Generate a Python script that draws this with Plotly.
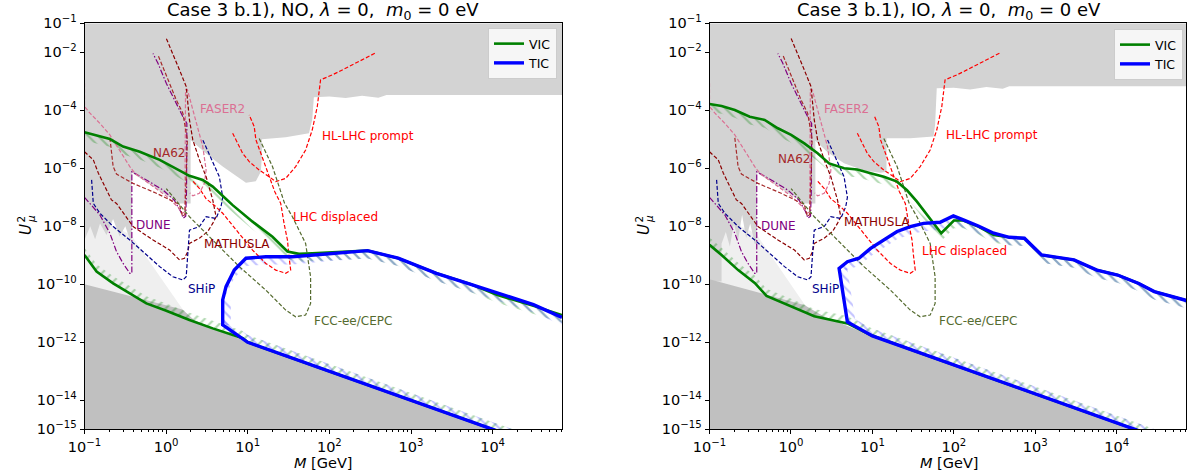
import plotly.graph_objects as go

# ---------------- data: log10(M / GeV) and log10(U_mu^2) ----------------
# existing constraints (light grey band at the top)
NO_EXCL_LOGM = [-1, -1, -0.93, -0.87, -0.81, -0.73, -0.65, -0.57, -0.5, -0.445, -0.42, -0.42, 0.164, 0.30, 0.30,
                0.49, 0.693, 0.978, 1.099, 1.16, 1.173, 1.173, 1.465, 1.75, 1.79, 1.81, 2.0, 2.2, 2.4, 2.6, 2.7, 4.9, 4.9]
NO_EXCL_LOGU = [-1, -8.47, -8.0, -8.45, -7.9, -8.3, -7.75, -8.35, -8.0, -8.45, -8.45, -6.15, -7.21, -7.21, -5.02,
                -5.49, -5.94, -6.50, -6.45, -6.12, -5.60, -5.0, -4.93, -4.79, -4.33, -3.55, -3.52, -3.58, -3.5, -3.57, -3.47, -3.47, -1]
IO_EXCL_LOGM = [-1, -1, -0.852, -0.852, -0.8, -0.75, -0.7, -0.65, -0.6, -0.55, -0.5, -0.445, -0.42, -0.42, 0.164, 0.30, 0.30,
                0.45, 0.652, 0.896, 1.10, 1.173, 1.173, 1.465, 1.75, 1.77, 1.79, 2.0, 2.2, 2.4, 2.6, 2.68, 4.9, 4.9]
IO_EXCL_LOGU = [-1, -9.9, -9.9, -8.6, -8.2, -8.7, -7.9, -8.5, -7.6, -8.4, -7.9, -8.6, -8.6, -6.15, -7.21, -7.21, -5.05,
                -5.45, -5.83, -6.08, -6.15, -6.12, -4.96, -4.96, -4.9, -4.5, -3.24, -3.22, -3.28, -3.2, -3.26, -3.17, -3.17, -1]
# BBN-like very light region
NO_BBN_LOGM = [-1, -0.43, 0.2, 0.2, -1]
NO_BBN_LOGU = [-7.5, -8.3, -10.85, -11.5, -11.5]
IO_BBN_LOGM = [-1, -0.43, 0.18, 0.18, -1]
IO_BBN_LOGU = [-7.5, -8.25, -10.75, -11.5, -11.5]
# seesaw (darker grey, bottom)
NO_SEESAW_LOGM = [-1, 0.2, 0.35, 1.0, 4.0, 5.0, 5.0, -1]
NO_SEESAW_LOGU = [-10, -10.87, -11.25, -12.0, -15.0, -16, -16.5, -16.5]
IO_SEESAW_LOGM = [-1, 0.164, 0.4, 1.0, 4.2, 5.0, 5.0, -1]
IO_SEESAW_LOGU = [-9.83, -10.71, -11.1, -11.78, -14.98, -15.78, -16.5, -16.5]

# VIC (green) boundaries
NO_VIC_UP_LOGM = [-1.0, -0.811, -0.689, -0.527, -0.323, -0.079, 0.124, 0.286, 0.449, 0.571, 0.734, 0.815, 1.059, 1.303,
                  1.486, 1.628, 1.79, 2.0, 2.468, 2.843, 3.311, 3.733, 4.06, 4.53, 4.85]
NO_VIC_UP_LOGU = [-4.76, -4.91, -4.99, -5.25, -5.43, -5.71, -6.0, -6.26, -6.40, -6.63, -7.06, -7.27, -7.84, -8.36,
                  -8.87, -8.95, -8.93, -8.91, -8.84, -9.10, -9.62, -10.0, -10.37, -10.77, -11.06]
NO_VIC_LO_LOGM = [-1.0, -0.852, -0.649, -0.445, -0.242, 0.002, 0.286, 0.571, 0.937, 1.0, 2.0, 3.0, 4.0, 4.5]
NO_VIC_LO_LOGU = [-8.99, -9.56, -9.97, -10.31, -10.66, -10.91, -11.23, -11.52, -11.86, -12.0, -13.0, -14.0, -15.0, -15.5]
IO_VIC_UP_LOGM = [-1.0, -0.852, -0.689, -0.506, -0.323, -0.161, 0.002, 0.164, 0.327, 0.469, 0.652, 0.815, 0.978, 1.14,
                  1.303, 1.425, 1.547, 1.75, 1.845, 2.0, 2.116, 2.30, 2.49, 2.68, 2.866, 3.077, 3.475, 3.756, 4.01, 4.27, 4.46, 4.85]
IO_VIC_UP_LOGU = [-3.78, -3.85, -3.99, -4.22, -4.33, -4.62, -4.85, -5.14, -5.48, -5.83, -6.0, -6.04, -6.17, -6.29,
                  -6.46, -6.75, -7.15, -7.90, -8.24, -7.8, -7.8, -8.01, -8.30, -8.38, -8.41, -8.99, -9.16, -9.51, -9.68, -9.97, -10.25, -10.55]
IO_VIC_LO_LOGM = [-1.0, -0.852, -0.648, -0.445, -0.30, 0.002, 0.286, 0.693, 0.978, 1.5, 2.0, 3.0, 4.0, 4.5]
IO_VIC_LO_LOGU = [-8.64, -8.99, -9.51, -9.95, -10.4, -10.75, -11.1, -11.35, -11.75, -12.28, -12.78, -13.78, -14.78, -15.28]

# TIC (blue) boundaries
NO_TIC_UP_LOGM = [0.693, 0.693, 0.734, 0.835, 0.978, 1.222, 1.547, 1.79, 2.0, 2.468, 2.843, 3.311, 3.733, 4.06, 4.5, 4.85]
NO_TIC_UP_LOGU = [-11.40, -10.54, -10.08, -9.51, -9.10, -9.05, -9.05, -8.99, -8.93, -8.84, -9.10, -9.62, -10.0, -10.31, -10.7, -11.14]
NO_TIC_LO_LOGM = [0.693, 1.0, 2.0, 3.0, 4.0, 4.5]
NO_TIC_LO_LOGU = [-11.40, -12.0, -13.0, -14.0, -15.0, -15.5]
IO_TIC_UP_LOGM = [0.693, 0.591, 0.693, 0.835, 0.978, 1.14, 1.303, 1.465, 1.628, 1.831, 1.994, 2.116, 2.30, 2.49, 2.68,
                  2.866, 3.077, 3.475, 3.756, 4.01, 4.27, 4.46, 4.857]
IO_TIC_UP_LOGU = [-11.3, -9.45, -9.22, -9.10, -8.76, -8.47, -8.18, -8.01, -7.90, -7.86, -7.64, -7.78, -7.99, -8.24, -8.38,
                  -8.41, -8.99, -9.16, -9.51, -9.68, -9.97, -10.25, -10.56]
IO_TIC_LO_LOGM = [0.693, 1.0, 2.0, 3.0, 4.0, 4.5]
IO_TIC_LO_LOGU = [-11.3, -11.78, -12.78, -13.78, -14.78, -15.28]

# future sensitivities (same in both panels)
DUNE_LOGM = [-1.0, -0.933, -0.87, -0.811, -0.689, -0.608, -0.527, -0.445, -0.42, -0.42, -0.242, -0.039, 0.10, 0.18,
             0.21, 0.24, 0.25, 0.254, 0.205, 0.124, 0.002, -0.10, -0.161]
DUNE_LOGU = [-7.0, -7.21, -7.4, -7.61, -8.24, -8.87, -9.28, -9.62, -9.62, -6.12, -6.40, -6.75, -7.1, -7.5,
             -7.72, -7.65, -6.75, -4.45, -4.22, -3.76, -3.07, -2.38, -2.04]
FASER2_LOGM = [-1.0, -1.0, -0.933, -0.811, -0.689, -0.6, -0.527, -0.445, -0.384, -0.2, 0.0, 0.15, 0.2, 0.23, 0.238,
               0.26, 0.449, 0.49, 0.469, 0.408, 0.327, 0.29]
FASER2_LOGU = [-3.07, -3.87, -4.10, -4.45, -4.85, -5.25, -5.60, -5.94, -6.17, -6.55, -6.95, -7.35, -7.55, -7.5, -3.30,
               -3.28, -5.25, -6.06, -6.52, -6.86, -6.95, -6.85]
NA62_LOGM = [-0.689, -0.67, -0.649, -0.608, -0.405, -0.12, 0.164, 0.2, 0.23, 0.26, 0.205, 0.124, 0.022, -0.10]
NA62_LOGU = [-4.95, -5.5, -5.94, -6.20, -6.52, -6.86, -7.25, -7.65, -7.6, -5.0, -4.10, -3.64, -2.95, -2.09]
MATHUSLA_LOGM = [-1.0, -0.892, -0.83, -0.75, -0.67, -0.608, -0.405, -0.16, 0.043, 0.164, 0.225, 0.266, 0.286, 0.408,
                 0.51, 0.571, 0.612, 0.571, 0.49, 0.408, 0.327, 0.286, 0.246, 0.164, 0.002]
MATHUSLA_LOGU = [-5.43, -5.71, -6.17, -6.63, -7.09, -7.21, -8.01, -8.47, -8.82, -9.16, -9.10, -8.87, -8.59, -8.41,
                 -8.18, -7.90, -7.67, -7.09, -6.29, -5.71, -5.02, -4.33, -3.18, -2.61, -1.52]
SHIP_LOGM = [-0.913, -0.892, -0.811, -0.648, -0.445, -0.242, -0.079, 0.083, 0.205, 0.246, 0.266, 0.286, 0.408, 0.449,
             0.49, 0.612, 0.673, 0.693, 0.652, 0.449]
SHIP_LOGU = [-6.40, -7.21, -7.55, -8.01, -8.47, -8.99, -9.39, -9.74, -9.85, -9.74, -9.05, -8.13, -8.01, -7.84,
             -7.67, -7.73, -7.32, -7.0, -6.29, -5.02]
HLLHC_LOGM = [0.815, 0.876, 0.937, 1.018, 1.14, 1.262, 1.343, 1.465, 1.587, 1.709, 1.79, 1.852, 1.892, 2.035, 2.116, 2.56]
HLLHC_LOGU = [-4.79, -5.14, -5.48, -5.77, -6.06, -6.29, -6.46, -6.35, -5.94, -5.37, -4.68, -3.87, -2.95, -2.78, -2.67, -2.03]
LHCDISP_LOGM = [0.33, 0.41, 0.49, 0.6, 0.693, 0.856, 1.059, 1.221, 1.343, 1.465, 1.526, 1.506, 1.486, 1.445, 1.404,
                1.33, 1.303, 1.283, 1.221, 1.16, 1.10, 1.079, 1.018]
LHCDISP_LOGU = [-6.45, -6.7, -7.05, -7.3, -7.55, -8.13, -8.82, -9.28, -9.51, -9.62, -9.51, -9.05, -8.47, -7.9, -7.21,
                -6.8, -6.6, -6.40, -5.94, -5.48, -5.02, -4.56, -4.16]
FCC_LOGM = [1.14, 1.221, 1.303, 1.384, 1.45, 1.547, 1.709, 1.77, 1.77, 1.709, 1.587, 1.465, 1.221, 0.896, 0.571, 0.286, 0.002]
FCC_LOGU = [-4.97, -5.48, -5.94, -6.63, -7.2, -7.67, -8.59, -9.74, -10.66, -11.06, -11.12, -10.89, -10.2, -9.39, -8.47, -7.67, -6.7]

# label positions (log10 M, log10 U^2) for [NO, IO]
LABELS = {
    "FASER2": [(0.396, -3.95), (0.382, -3.95)],
    "NA62": [(-0.18, -5.46), (-0.18, -5.69)],
    "HL-LHC prompt": [(1.88, -4.89), (1.882, -4.85)],
    "LHC displaced": [(1.53, -7.69), (1.59, -8.86)],
    "DUNE": [(-0.391, -7.97), (-0.391, -7.99)],
    "MATHUSLA": [(0.443, -8.62), (0.631, -7.85)],
    "SHiP": [(0.242, -10.15), (0.232, -10.17)],
    "FCC-ee/CEPC": [(1.788, -11.25), (1.788, -11.25)],
}
LABEL_COLORS = {"FASER2": "#db7093", "NA62": "#a52a2a", "HL-LHC prompt": "red", "LHC displaced": "red",
                "DUNE": "purple", "MATHUSLA": "#8b0000", "SHiP": "#00008b", "FCC-ee/CEPC": "#556b2f"}
TITLES = ["Case 3 b.1), NO, <i>λ</i> = 0,  <i>m</i><sub>0</sub> = 0 eV",
          "Case 3 b.1), IO, <i>λ</i> = 0,  <i>m</i><sub>0</sub> = 0 eV"]

X_TICKS = [0.1, 1, 10, 100, 1e3, 1e4]
X_TICKTEXT = ["10<sup>−1</sup>", "10<sup>0</sup>", "10<sup>1</sup>", "10<sup>2</sup>", "10<sup>3</sup>", "10<sup>4</sup>"]
Y_TICKS = [1e-1, 1e-2, 1e-4, 1e-6, 1e-8, 1e-10, 1e-12, 1e-14, 1e-15]
Y_TICKTEXT = ["10<sup>−1</sup>", "10<sup>−2</sup>", "10<sup>−4</sup>", "10<sup>−6</sup>", "10<sup>−8</sup>",
              "10<sup>−10</sup>", "10<sup>−12</sup>", "10<sup>−14</sup>", "10<sup>−15</sup>"]

# ---------------- figure ----------------
W, H = 1187, 476
GREEN = "#008000"
BLUE = "#0000ff"
G_HATCH = "rgba(0,128,0,0.62)"
B_HATCH = "rgba(30,30,255,0.55)"


def P(v):
    return [10.0 ** t for t in v]


fig = go.Figure()


def add(tr, k):
    tr.update(xaxis="x" if k == 0 else "x2", yaxis="y" if k == 0 else "y2")
    fig.add_trace(tr)


def poly(lm, lu, color, k):
    add(go.Scatter(x=P(lm), y=P(lu), mode="lines", fill="toself", fillcolor=color,
                   line=dict(width=0), hoverinfo="skip", showlegend=False), k)


def hatch(lm, lu, k, shape, color, dy=0.0, dx=0.0):
    xs = list(lm) + [t + dx for t in reversed(lm)]
    ys = list(lu) + [t + dy for t in reversed(lu)]
    add(go.Scatter(x=P(xs), y=P(ys), mode="lines", fill="toself", fillcolor="rgba(0,0,0,0)",
                   line=dict(width=0),
                   fillpattern=dict(shape=shape, fgcolor=color, bgcolor="rgba(0,0,0,0)", size=7, solidity=0.3),
                   hoverinfo="skip", showlegend=False), k)


def dline(lm, lu, color, dash, k):
    add(go.Scatter(x=P(lm), y=P(lu), mode="lines", line=dict(color=color, width=1.2, dash=dash),
                   hoverinfo="skip", showlegend=False), k)


panels = [
    dict(excl=(NO_EXCL_LOGM, NO_EXCL_LOGU), bbn=(NO_BBN_LOGM, NO_BBN_LOGU), ss=(NO_SEESAW_LOGM, NO_SEESAW_LOGU),
         vup=(NO_VIC_UP_LOGM, NO_VIC_UP_LOGU), vlo=(NO_VIC_LO_LOGM, NO_VIC_LO_LOGU),
         tup=(NO_TIC_UP_LOGM, NO_TIC_UP_LOGU), tlo=(NO_TIC_LO_LOGM, NO_TIC_LO_LOGU)),
    dict(excl=(IO_EXCL_LOGM, IO_EXCL_LOGU), bbn=(IO_BBN_LOGM, IO_BBN_LOGU), ss=(IO_SEESAW_LOGM, IO_SEESAW_LOGU),
         vup=(IO_VIC_UP_LOGM, IO_VIC_UP_LOGU), vlo=(IO_VIC_LO_LOGM, IO_VIC_LO_LOGU),
         tup=(IO_TIC_UP_LOGM, IO_TIC_UP_LOGU), tlo=(IO_TIC_LO_LOGM, IO_TIC_LO_LOGU)),
]

for k, p in enumerate(panels):
    poly(*p["bbn"], "#efefef", k)
    poly(*p["excl"], "#d3d3d3", k)
    poly(*p["ss"], "#c0c0c0", k)

    # hatching
    vum, vuu = p["vup"]
    hatch(vum, vuu, k, "\\", G_HATCH, dy=-0.27)
    vlm, vlu = p["vlo"]
    hatch(vlm, vlu, k, "/", G_HATCH, dy=0.25)
    tum, tuu = p["tup"]
    hatch(tum[:2], tuu[:2], k, "\\", B_HATCH, dx=0.1)
    hatch(tum[1:], tuu[1:], k, "\\", B_HATCH, dy=-0.27)
    tlm, tlu = p["tlo"]
    hatch(tlm, tlu, k, "\\", B_HATCH, dy=0.25)

    # sensitivity curves
    dline(DUNE_LOGM, DUNE_LOGU, "purple", "6px,2px,1.5px,2px", k)
    dline(FASER2_LOGM, FASER2_LOGU, "#db7093", "4px,2px", k)
    dline(NA62_LOGM, NA62_LOGU, "#a52a2a", "4px,2px", k)
    dline(MATHUSLA_LOGM, MATHUSLA_LOGU, "#8b0000", "4px,2px", k)
    dline(SHIP_LOGM, SHIP_LOGU, "#00008b", "4px,2px", k)
    dline(HLLHC_LOGM, HLLHC_LOGU, "red", "4px,2px", k)
    dline(LHCDISP_LOGM, LHCDISP_LOGU, "red", "4px,2px", k)
    dline(FCC_LOGM, FCC_LOGU, "#556b2f", "4px,2px", k)

    leg = "legend" if k == 0 else "legend2"
    add(go.Scatter(x=P(vum), y=P(vuu), mode="lines", line=dict(color=GREEN, width=2.6), name="VIC",
                   legend=leg, legendgroup="vic%d" % k, showlegend=True, hoverinfo="skip"), k)
    add(go.Scatter(x=P(vlm), y=P(vlu), mode="lines", line=dict(color=GREEN, width=2.6), name="VIC",
                   legend=leg, legendgroup="vic%d" % k, showlegend=False, hoverinfo="skip"), k)
    blm = list(reversed(tlm)) + list(tum)
    blu = list(reversed(tlu)) + list(tuu)
    add(go.Scatter(x=P(blm), y=P(blu), mode="lines", line=dict(color=BLUE, width=3.4), name="TIC",
                   legend=leg, showlegend=True, hoverinfo="skip"), k)

    for name, pos in LABELS.items():
        lx, ly = pos[k]
        fig.add_annotation(x=lx, y=ly, xref="x" if k == 0 else "x2", yref="y" if k == 0 else "y2",
                           text=name, showarrow=False, xanchor="left", yanchor="middle",
                           font=dict(size=12, color=LABEL_COLORS[name]))

XD = [[84.5 / W, 562 / W], [709.5 / W, 1186 / W]]
YD = [1 - 429.3 / H, 1 - 23.3 / H]

axis_common = dict(type="log", showline=True, mirror=True, linecolor="black", linewidth=1, automargin=False,
                   ticks="outside", tickwidth=1, ticklen=4, tickcolor="black", showgrid=False, zeroline=False,
                   tickfont=dict(size=14.5, color="black", family="DejaVu Sans"))
minor_vals = [m * 10.0 ** e for e in range(-1, 5) for m in range(2, 10)]

for k in range(2):
    sx = "xaxis" if k == 0 else "xaxis2"
    sy = "yaxis" if k == 0 else "yaxis2"
    fig.update_layout(**{
        sx: dict(axis_common, domain=XD[k], range=[-1, 4.85], anchor="y" if k == 0 else "y2",
                 tickmode="array", tickvals=X_TICKS, ticktext=X_TICKTEXT,
                 minor=dict(ticks="outside", ticklen=2, tickwidth=0.8, tickcolor="black",
                            tickmode="array", tickvals=minor_vals)),
        sy: dict(axis_common, domain=YD, range=[-15, -1], anchor="x" if k == 0 else "x2",
                 tickmode="array", tickvals=Y_TICKS, ticktext=Y_TICKTEXT),
    })
    cx = (XD[k][0] * W + (562 if k == 0 else 1189)) / 2 / W
    fig.add_annotation(x=cx, y=1 - 11 / H, xref="paper", yref="paper", text=TITLES[k], showarrow=False,
                       xanchor="center", yanchor="middle", font=dict(size=18, color="black"))
    fig.add_annotation(x=cx, y=1 - 463 / H, xref="paper",
                       yref="paper", text="<i>M</i> [GeV]", showarrow=False, xanchor="center",
                       yanchor="middle", font=dict(size=14.5, color="black"))
    # y-axis label U_mu^2 with stacked super/subscript (rotated)
    off = 0 if k == 0 else 618
    fig.add_annotation(x=(26 + off) / W, y=1 - 230 / H, xref="paper", yref="paper",
                       text="<i>U</i>", textangle=-90, showarrow=False,
                       xanchor="center", yanchor="middle", font=dict(size=15, color="black"))
    fig.add_annotation(x=(20.5 + off) / W, y=1 - 219 / H, xref="paper", yref="paper",
                       text="2", textangle=-90, showarrow=False,
                       xanchor="center", yanchor="middle", font=dict(size=10.5, color="black"))
    fig.add_annotation(x=(31 + off) / W, y=1 - 219 / H, xref="paper", yref="paper",
                       text="<i>μ</i>", textangle=-90, showarrow=False,
                       xanchor="center", yanchor="middle", font=dict(size=10.5, color="black"))

legend_style = dict(xanchor="right", yanchor="top", bgcolor="rgba(255,255,255,0.8)", bordercolor="#cccccc",
                    borderwidth=1, font=dict(size=12.5, color="black"), itemwidth=30, tracegroupgap=0)
fig.update_layout(
    width=W, height=H, autosize=False, margin=dict(l=0, r=0, t=0, b=0, pad=0),
    paper_bgcolor="white", plot_bgcolor="white",
    font=dict(family="DejaVu Sans", color="black"),
    legend=dict(legend_style, x=557 / W, y=1 - 28 / H),
    legend2=dict(legend_style, x=1183 / W, y=1 - 29 / H),
)

fig.write_html("out.html")
